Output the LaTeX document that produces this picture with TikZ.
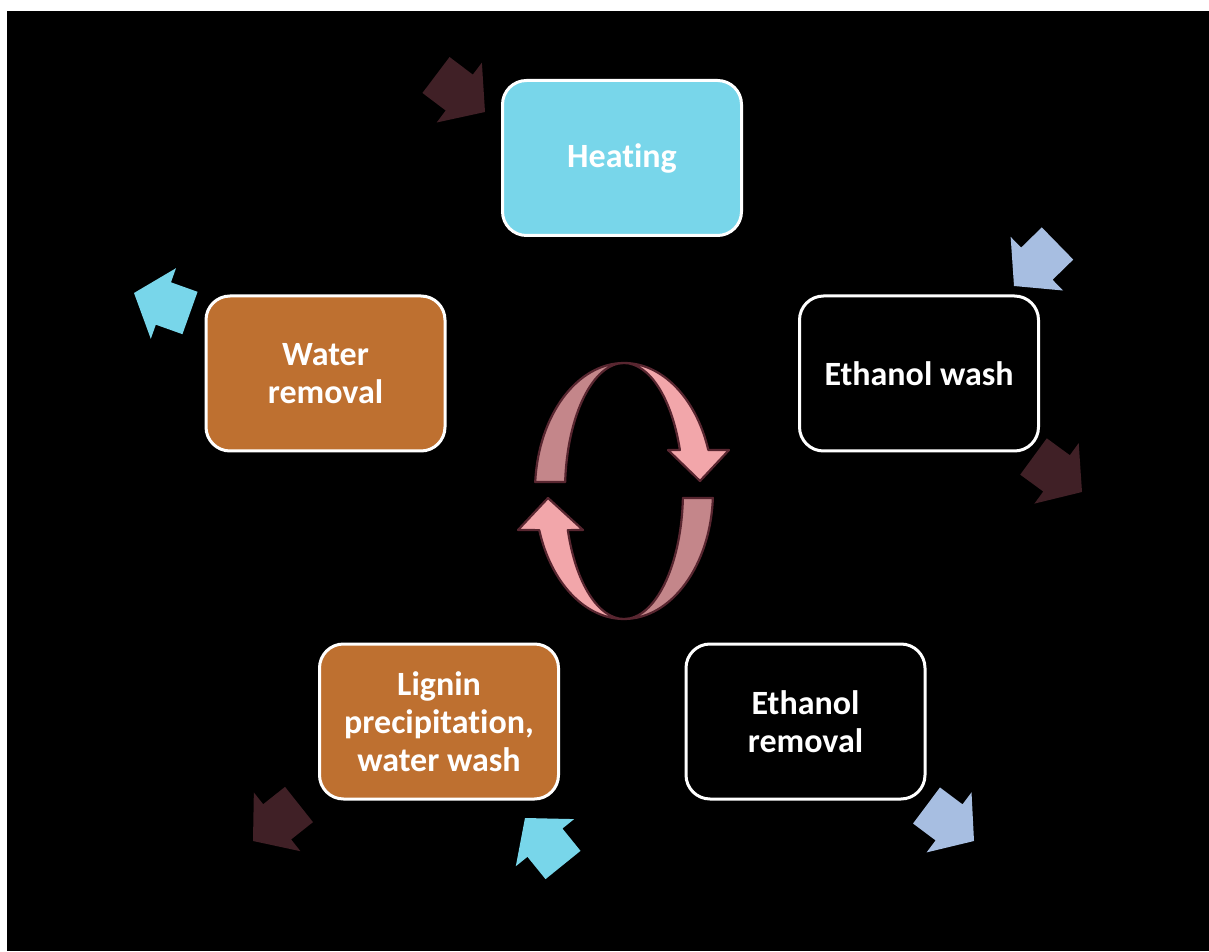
\documentclass[tikz,border=0pt]{standalone}
\usepackage{fontspec}
\setmainfont[Ligatures={NoCommon}]{Carlito}
\usetikzlibrary{calc}
\definecolor{cyanbox}{RGB}{120,214,234}
\definecolor{orangebox}{RGB}{190,112,48}
\definecolor{maroonarrow}{RGB}{64,32,38}
\definecolor{bluearrow}{RGB}{167,190,225}
\definecolor{pinklight}{RGB}{242,166,170}
\definecolor{pinkdark}{RGB}{196,134,138}
\definecolor{pinkline}{RGB}{88,38,48}
\newcommand\blockarrow[3]{%
  \coordinate (#2j) at ($(#2)!0.475!(#3)$);
  \fill[#1] ($(#2)!22.5pt!90:(#3)$) -- ($(#2j)!22.5pt!90:(#3)$) -- ($(#2j)!37.5pt!90:(#3)$) -- (#3)
    -- ($(#2j)!37.5pt!-90:(#3)$) -- ($(#2j)!22.5pt!-90:(#3)$) -- ($(#2)!22.5pt!-90:(#3)$) -- cycle;}
\begin{document}
\begin{tikzpicture}[x=1pt,y=1pt,
  stepbox/.style={draw=white, line width=3pt, rounded corners=24pt, minimum width=239pt,
    minimum height=155pt, inner sep=0pt, align=center, text=white,
    font=\bfseries\fontsize{34}{38}\selectfont},
  ribbon/.style={draw=pinkline, line width=2.2pt, line join=round}]
\path[fill=white] (0,0) rectangle (1209,951);
\path[fill=black] (7,0) rectangle (1209,940);
\useasboundingbox (0,0) rectangle (1209,951);

% boxes
\node[stepbox, fill=cyanbox] (heat) at (622,793) {Heating};
\node[stepbox, fill=black] (ewash) at (919,577.5) {Ethanol wash};
\node[stepbox, fill=orangebox] (water) at (325.5,577.5) {Water\\removal};
\node[stepbox, fill=black] (erem) at (805.5,229.5) {Ethanol\\removal};
\node[stepbox, fill=orangebox] (lignin) at (439,229.5) {Lignin\\precipitation,\\water wash};

% block arrows
\coordinate (a1t) at (436,876);   \coordinate (a1h) at (485,839);
\coordinate (a2t) at (1057.5,707.5); \coordinate (a2h) at (1014,665);
\coordinate (a3t) at (1033.5,494.5); \coordinate (a3h) at (1082,459);
\coordinate (a4t) at (926.5,145.5); \coordinate (a4h) at (974,110);
\coordinate (a5t) at (299,146.5);  \coordinate (a5h) at (253,110);
\coordinate (a6t) at (563,86);     \coordinate (a6h) at (525,133);
\coordinate (a7t) at (190,638);    \coordinate (a7h) at (134,658);
\blockarrow{maroonarrow}{a1t}{a1h}
\blockarrow{bluearrow}{a2t}{a2h}
\blockarrow{maroonarrow}{a3t}{a3h}
\blockarrow{bluearrow}{a4t}{a4h}
\blockarrow{maroonarrow}{a5t}{a5h}
\blockarrow{cyanbox}{a6t}{a6h}
\blockarrow{cyanbox}{a7t}{a7h}

% central cycle
\coordinate (cc) at (624,460);
\filldraw[ribbon, fill=pinkdark] ($(cc)+(176:89 and 128)$)
  arc[start angle=176, end angle=90, x radius=89, y radius=128]
  arc[start angle=90, end angle=176, x radius=59, y radius=128] -- cycle;
\filldraw[ribbon, fill=pinkdark] ($(cc)+(-3.1:89 and 128)$)
  arc[start angle=-3.1, end angle=-90, x radius=89, y radius=128]
  arc[start angle=-90, end angle=-3.1, x radius=59, y radius=128] -- cycle;
\filldraw[ribbon, fill=pinklight] ($(cc)+(90:89 and 128)$)
  arc[start angle=90, end angle=18.7, x radius=89, y radius=128]
  -- (729,501) -- (700,470) -- (668,501)
  -- ($(cc)+(18.7:59 and 128)$)
  arc[start angle=18.7, end angle=90, x radius=59, y radius=128] -- cycle;
\filldraw[ribbon, fill=pinklight] ($(cc)+(270:89 and 128)$)
  arc[start angle=270, end angle=197.8, x radius=89, y radius=128]
  -- (518,421) -- (548,453) -- (583,421)
  -- ($(cc)+(197.8:59 and 128)$)
  arc[start angle=197.8, end angle=270, x radius=59, y radius=128] -- cycle;
\end{tikzpicture}
\end{document}
